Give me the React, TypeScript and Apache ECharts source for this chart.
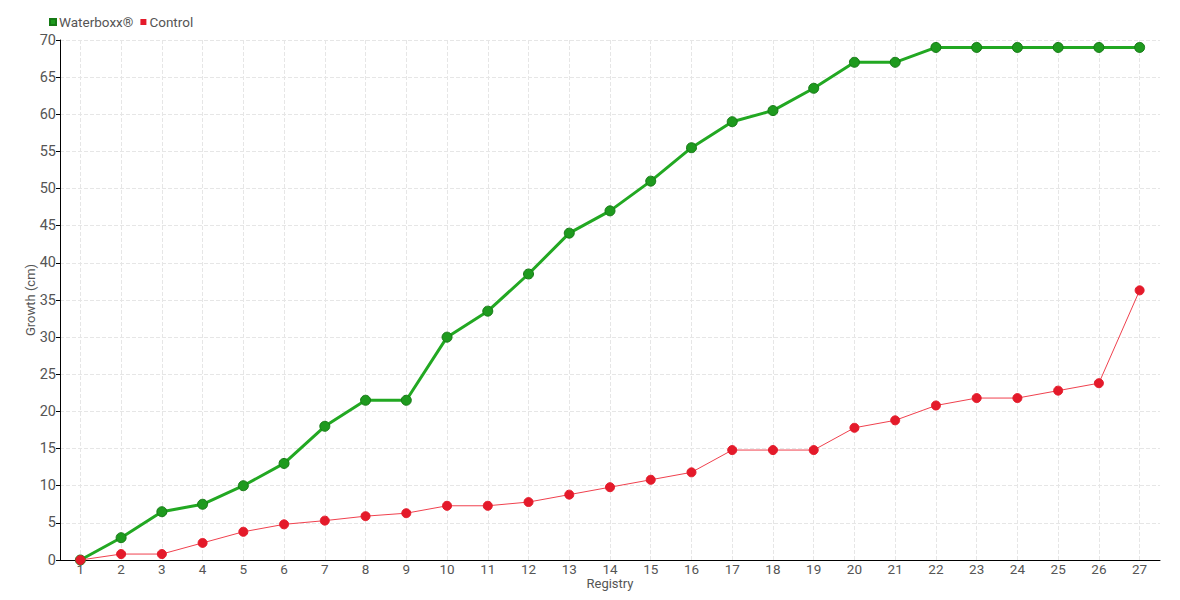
import React, { useEffect, useRef } from "react";
import * as echarts from "echarts";

const categories = ["1","2","3","4","5","6","7","8","9","10","11","12","13","14","15","16","17","18","19","20","21","22","23","24","25","26","27"];
const waterboxx = [0, 3, 6.5, 7.5, 10, 13, 18, 21.5, 21.5, 30, 33.5, 38.5, 44, 47, 51, 55.5, 59, 60.5, 63.5, 67, 67, 69, 69, 69, 69, 69, 69];
const control = [0, 0.8, 0.8, 2.3, 3.8, 4.8, 5.3, 5.9, 6.3, 7.3, 7.3, 7.8, 8.8, 9.8, 10.8, 11.8, 14.8, 14.8, 14.8, 17.8, 18.8, 20.8, 21.8, 21.8, 22.8, 23.8, 36.3];

const FONT = "Roboto, 'DejaVu Sans', sans-serif";

export default function App() {
  const ref = useRef<HTMLDivElement>(null);
  useEffect(() => {
    const chart = echarts.init(ref.current!, null, { renderer: "svg" });
    chart.setOption({
      animation: false,
      textStyle: { fontFamily: FONT, color: "#555" },
      legend: {
        left: 49,
        top: 15,
        padding: 0,
        itemWidth: 6,
        itemHeight: 6,
        itemGap: 7,
        icon: "rect",
        textStyle: { fontFamily: FONT, fontSize: 13.5, color: "#555", padding: [0, 0, 0, -2] },
        data: ["Waterboxx®", "Control"],
      },
      grid: { left: 60, right: 20, top: 40, bottom: 40, outerBoundsMode: "none", containLabel: false },
      xAxis: {
        type: "category",
        data: categories,
        boundaryGap: true,
        name: "Registry",
        nameLocation: "middle",
        nameGap: 23,
        nameMoveOverlap: false,
        nameTextStyle: { fontFamily: FONT, fontSize: 13, color: "#555", verticalAlign: "middle", lineHeight: 13 },
        axisLine: { lineStyle: { color: "#000", width: 1 } },
        axisTick: { alignWithLabel: true, length: 4, lineStyle: { color: "#000" } },
        axisLabel: { fontFamily: FONT, fontSize: 13.5, color: "#555", margin: 2 },
        splitLine: { show: true, alignWithLabel: true, lineStyle: { color: "#e6e6e6", type: "dashed" } },
      },
      yAxis: {
        type: "value",
        min: 0,
        max: 70,
        interval: 5,
        name: "Growth (cm)",
        nameLocation: "middle",
        nameGap: 30,
        nameMoveOverlap: false,
        nameTextStyle: { fontFamily: FONT, fontSize: 13, color: "#555", verticalAlign: "middle", lineHeight: 13 },
        axisLine: { show: true, lineStyle: { color: "#000", width: 1 } },
        axisTick: { show: true, length: 4, lineStyle: { color: "#000" } },
        axisLabel: { fontFamily: FONT, fontSize: 14.5, color: "#555", margin: 4 },
        splitLine: { show: true, lineStyle: { color: "#e6e6e6", type: "dashed" } },
      },
      series: [
        {
          name: "Control",
          type: "line",
          data: control,
          symbol: "circle",
          symbolSize: 9,
          z: 3,
          itemStyle: { color: "#e41a2a", borderColor: "#e41a2a" },
          lineStyle: { color: "#f0414e", width: 1 },
        },
        {
          name: "Waterboxx®",
          type: "line",
          data: waterboxx,
          symbol: "circle",
          symbolSize: 10,
          z: 2,
          itemStyle: { color: "#1e9a1e", borderColor: "#157a15", borderWidth: 1 },
          lineStyle: { color: "#22a822", width: 3 },
        },
      ],
    });
    return () => chart.dispose();
  }, []);
  return <div ref={ref} style={{ width: 1180, height: 600, margin: -8 }} />;
}
